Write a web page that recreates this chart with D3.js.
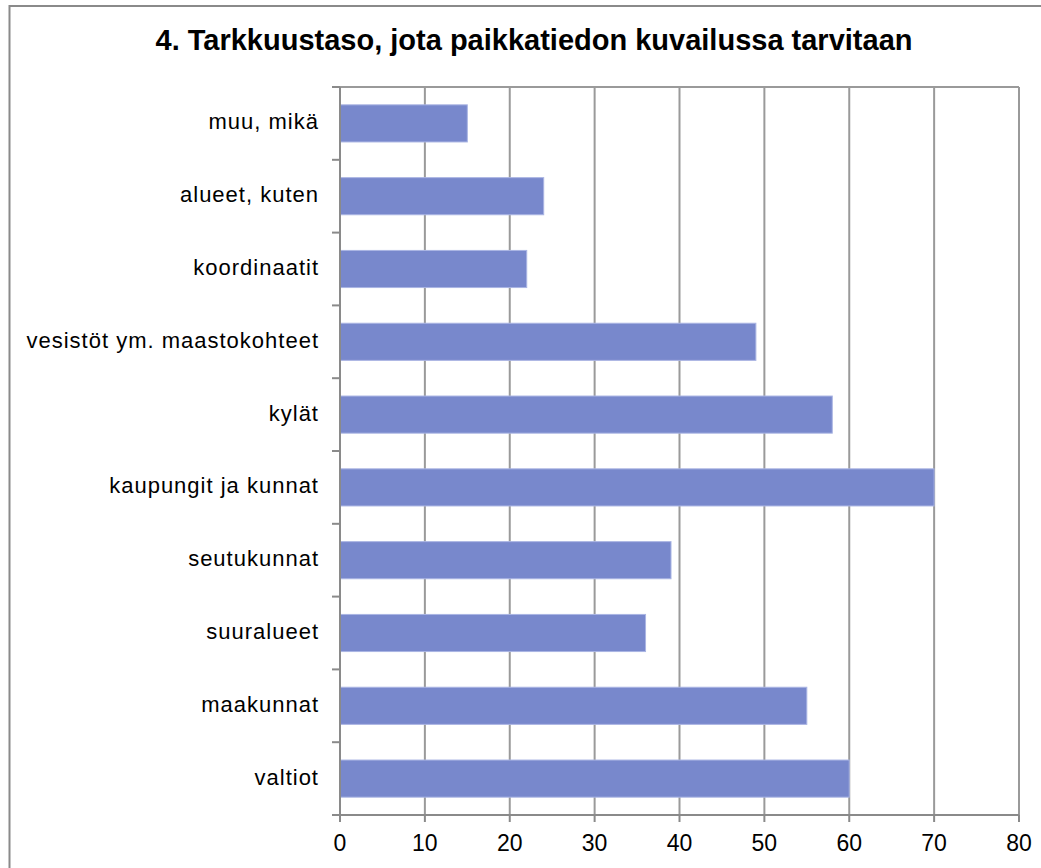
<!DOCTYPE html>
<html><head><meta charset="utf-8">
<script src="https://cdn.jsdelivr.net/npm/d3@7"></script>
<style>html,body{margin:0;padding:0;background:#fff;}svg{display:block;}</style>
</head><body>
<script>
const title = "4. Tarkkuustaso, jota paikkatiedon kuvailussa tarvitaan";
const categories = ["muu, mikä","alueet, kuten","koordinaatit","vesistöt ym. maastokohteet","kylät","kaupungit ja kunnat","seutukunnat","suuralueet","maakunnat","valtiot"];
const values = [15,24,22,49,58,70,39,36,55,60];
const xTicks = [0,10,20,30,40,50,60,70,80];

const W = 1041, H = 868;
const FONT = "Liberation Sans, Arial, sans-serif";
const svg = d3.select("body").append("svg").attr("width", W).attr("height", H);
svg.append("rect").attr("width", W).attr("height", H).attr("fill", "#fff");
// outer border
svg.append("path").attr("d", `M9.5,${H+5} V6 H${W+5}`).attr("fill","none").attr("stroke","#8a8a8a").attr("stroke-width",2);

svg.append("text").attr("x", 534).attr("y", 50).attr("text-anchor","middle")
  .attr("font-family",FONT).attr("font-weight","bold")
  .attr("font-size",29).attr("fill","#000").text(title);

const L = 340, R = 1019, T = 87, B = 815;
const x = d3.scaleLinear().domain([0,80]).range([L,R]);
const y = d3.scaleBand().domain(categories).range([T,B]).paddingInner(0.49).paddingOuter(0.245);
const yb = d3.scaleBand().domain(categories).range([T,B]);

// gridlines
svg.append("g").selectAll("line").data(xTicks.slice(1)).join("line")
  .attr("x1", d=>x(d)).attr("x2", d=>x(d)).attr("y1", T).attr("y2", B)
  .attr("stroke","#9a9a9a").attr("stroke-width",2);
// top border
svg.append("line").attr("x1", L).attr("x2", R).attr("y1", T).attr("y2", T).attr("stroke","#9a9a9a").attr("stroke-width",2);

// bars
svg.append("g").selectAll("rect").data(categories).join("rect")
  .attr("x", x(0)).attr("y", d=>y(d)).attr("width", (d,i)=>x(values[i])-x(0)).attr("height", y.bandwidth())
  .attr("fill","#7888cc").attr("stroke","#aab5e3").attr("stroke-width",1);

// y axis
const yAxisG = svg.append("g");
yAxisG.append("line").attr("x1",L).attr("x2",L).attr("y1",T).attr("y2",B+7).attr("stroke","#8a8a8a").attr("stroke-width",2);
const bounds = categories.map(c=>yb(c)).concat([B]);
yAxisG.selectAll("line.tk").data(bounds).join("line").attr("class","tk")
  .attr("x1",L-8).attr("x2",L).attr("y1",d=>d).attr("y2",d=>d).attr("stroke","#8a8a8a").attr("stroke-width",2);
yAxisG.selectAll("text").data(categories).join("text")
  .attr("x", 319).attr("y", d=>yb(d)+yb.bandwidth()/2 + 6).attr("text-anchor","end")
  .attr("font-family",FONT).attr("font-size",22).attr("letter-spacing","1px").attr("fill","#000").text(d=>d);

// x axis
const xAxisG = svg.append("g");
xAxisG.append("line").attr("x1",L-8).attr("x2",R).attr("y1",B).attr("y2",B).attr("stroke","#8a8a8a").attr("stroke-width",2);
xAxisG.selectAll("line.tk").data(xTicks).join("line").attr("class","tk")
  .attr("x1",d=>x(d)).attr("x2",d=>x(d)).attr("y1",B).attr("y2",B+7).attr("stroke","#8a8a8a").attr("stroke-width",2);
xAxisG.selectAll("text").data(xTicks).join("text")
  .attr("x", d=>x(d)).attr("y", 851).attr("text-anchor","middle")
  .attr("font-family",FONT).attr("font-size",23).attr("fill","#000").text(d=>d);
</script>
</body></html>
